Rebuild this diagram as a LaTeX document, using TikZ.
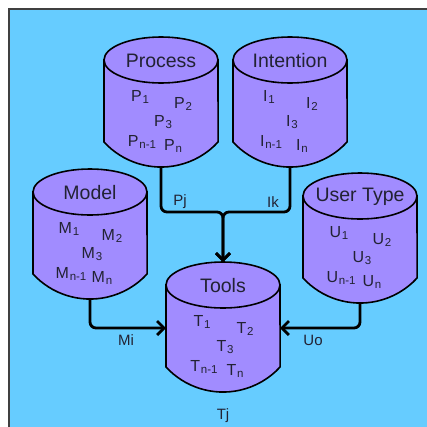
\documentclass[tikz,border=0pt]{standalone}
\usepackage{fontspec}
\setmainfont{Liberation Sans}
\usetikzlibrary{arrows.meta}
\definecolor{bgblue}{RGB}{102,204,255}
\definecolor{dbpurple}{RGB}{161,140,255}
\definecolor{ink}{RGB}{34,34,51}
\newcommand\dbsub[1]{\kern0.8pt\raisebox{-1.5pt}{\fontsize{11.5}{12}\selectfont#1}}

\begin{document}
\begin{tikzpicture}[x=1pt,y=-1pt,
	db/.style={draw,line width=1.6pt,fill=dbpurple},
	ttl/.style={font=\fontsize{19.5}{22}\selectfont,text=ink},
	item/.style={font=\fontsize{16}{18}\selectfont,text=ink,inner sep=0pt},
	lbl/.style={font=\fontsize{15}{17}\selectfont,text=ink,inner sep=0pt},
	flow/.style={line width=2.8pt,rounded corners=6pt,-{Straight Barb[length=7pt,width=14pt]}}]
	\useasboundingbox (0,0) rectangle (427,426);
	\clip (0,0) rectangle (427,426);
	\draw[line width=2pt,draw=black!75,fill=bgblue] (9,9) rectangle (440,440);
	% the five stores
	\foreach \id/\cx/\cy/\title/\L in {proc/161/60/Process/P,int/290/60/Intention/I,mod/90/192/Model/M,user/360/196/User Type/U,tools/223/285/Tools/T}{
		\draw[db] (\cx-57,\cy) -- (\cx-57,\cy+82) arc[start angle=137.4,end angle=42.6,radius=77.5] -- (\cx+57,\cy) -- cycle;
		\draw[db] (\cx,\cy) ellipse [x radius=57,y radius=23];
		\coordinate (\id-t) at (\cx,\cy-23);
		\coordinate (\id-b) at (\cx,\cy+107);
		\coordinate (\id-w) at (\cx-57,\cy+43);
		\coordinate (\id-e) at (\cx+57,\cy+43);
		\node[ttl] (\id) at (\cx,\cy+1) {\title};
		\node[item] (\id-1) at (\cx-21,\cy+37) {\L\dbsub{1}};
		\node[item] (\id-2) at (\cx+22,\cy+44) {\L\dbsub{2}};
		\node[item] (\id-3) at (\cx+2,\cy+62) {\L\dbsub{3}};
		\node[item] (\id-4) at (\cx-19,\cy+82) {\L\dbsub{n-1}};
		\node[item] (\id-5) at (\cx+12,\cy+86) {\L\dbsub{n}};
	}
	% links into Tools
	\coordinate (join) at (223,212);
	\draw[flow] (proc-b) |- (join) -- (tools-t);
	\draw[flow] (int-b) |- (join) -- (tools-t);
	\draw[flow] (mod-b) |- (tools-w);
	\draw[flow] (user-b) |- (tools-e);
	\node[lbl] (pj) at (180,202) {Pj};
	\node[lbl] (ik) at (273,202) {Ik};
	\node[lbl] (mi) at (126,340) {Mi};
	\node[lbl] (uo) at (313,340) {Uo};
	\node[lbl] (tj) at (223,416) {Tj};
\end{tikzpicture}
\end{document}
